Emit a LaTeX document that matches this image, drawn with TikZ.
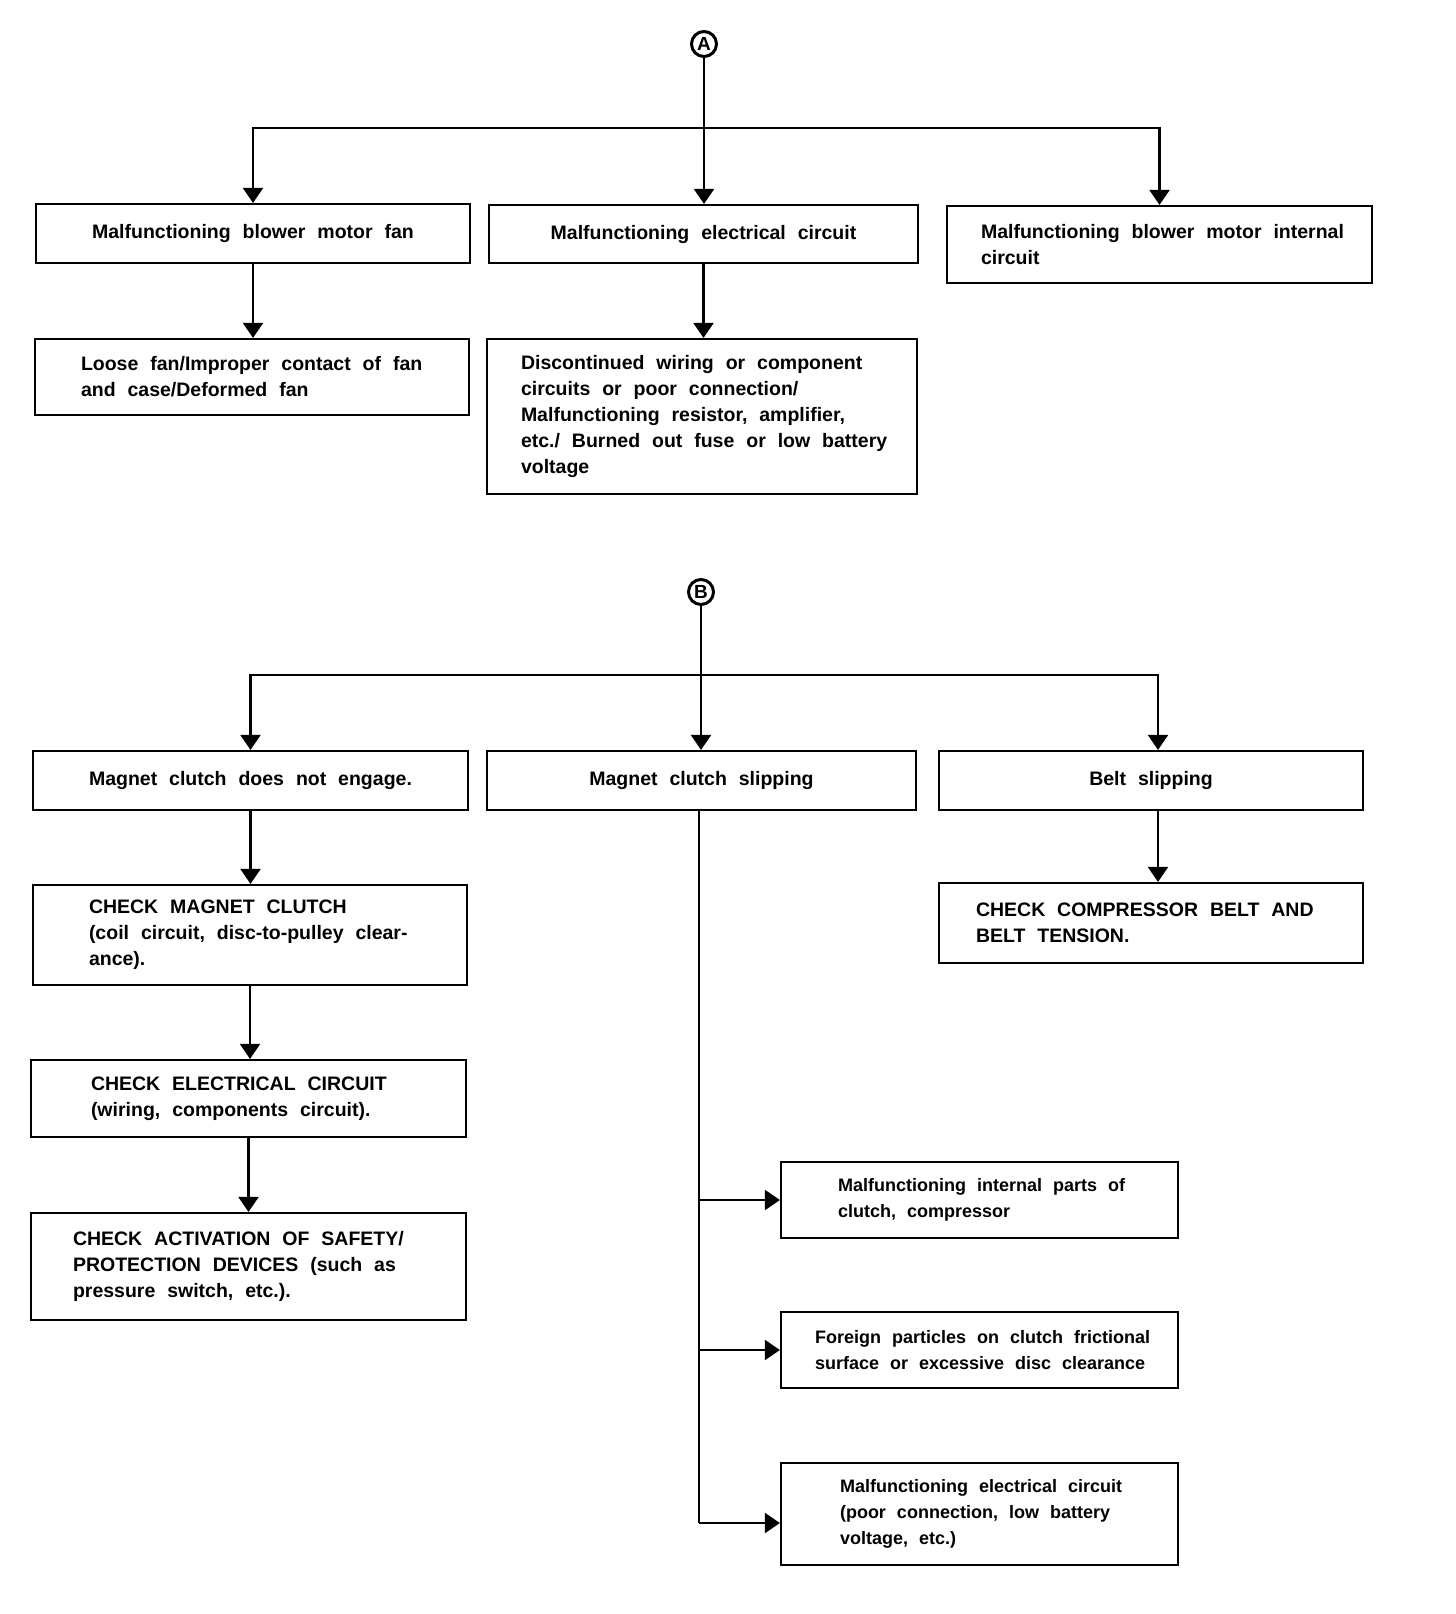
\documentclass[tikz,border=0pt]{standalone}
\usepackage{fontspec}
\setmainfont{Liberation Sans}[WordSpace=2.2]
\usetikzlibrary{arrows.meta}
\newcommand\Lx[1]{\mbox{\spaceskip=0pt\xspaceskip=0pt\relax #1}}
\tikzset{
  box/.style={draw, line width=2.2pt, rectangle, inner sep=0pt, align=center,
    font=\fontsize{19.5}{26}\selectfont\bfseries},
  lbox/.style={box, align=left},
  sbox/.style={lbox, font=\fontsize{18}{26}\selectfont\bfseries},
  circ/.style={draw, circle, line width=3pt, minimum size=25pt, inner sep=0pt,
    font=\fontsize{19}{19}\selectfont\bfseries},
  line/.style={line width=2.2pt},
  arr/.style={line, -{Triangle[length=15pt,width=20pt]}}
}
\begin{document}
\begin{tikzpicture}[x=1pt,y=-1pt]
\useasboundingbox (0,0) rectangle (1456,1614);
% ---- part A ----
\node[circ] (A) at (704,44) {A};
\node[box, minimum width=434pt, minimum height=59pt] (fan) at (253,233.5) {Malfunctioning blower motor fan};
\node[box, minimum width=429pt, minimum height=58pt] (elec) at (703.5,234) {Malfunctioning electrical circuit};
\node[lbox, minimum width=425pt, minimum height=77pt, inner xsep=34pt, text width=357pt] (motor) at (1159.5,244.5) {\Lx{Malfunctioning blower motor internal}\\\Lx{circuit}};
\node[lbox, minimum width=434pt, minimum height=76pt, inner xsep=46pt, text width=342pt] (loose) at (252,377) {\Lx{Loose fan/Improper contact of fan}\\\Lx{and case/Deformed fan}};
\node[lbox, minimum width=430pt, minimum height=155pt, inner xsep=34pt, text width=362pt] (discont) at (702,416.5) {\Lx{Discontinued wiring or component}\\\Lx{circuits or poor connection/}\\\Lx{Malfunctioning resistor, amplifier,}\\\Lx{etc./ Burned out fuse or low battery}\\\Lx{voltage}};
\coordinate (hA) at (704,128);
\draw[arr] (A.south) -- (A.south |- elec.north);
\draw[arr] (hA) -| (fan.north);
\draw[arr] (hA) -| (motor.north);
\draw[arr] (fan.south) -- (fan.south |- loose.north);
\draw[arr] (elec.south) -- (elec.south |- discont.north);
% ---- part B ----
\node[circ] (B) at (701,592) {B};
\node[box, minimum width=435pt, minimum height=59pt] (engage) at (250.5,780.5) {Magnet clutch does not engage.};
\node[box, minimum width=429pt, minimum height=59pt] (slip) at (701.5,780.5) {Magnet clutch slipping};
\node[box, minimum width=424pt, minimum height=59pt] (belt) at (1151,780.5) {Belt slipping};
\node[lbox, minimum width=434pt, minimum height=100pt, inner xsep=56pt, text width=322pt] (checkmag) at (250,935) {\Lx{CHECK MAGNET CLUTCH}\\\Lx{(coil circuit, disc-to-pulley clear-}\\\Lx{ance).}};
\node[lbox, minimum width=424pt, minimum height=80pt, inner xsep=37pt, text width=350pt] (comp) at (1151,923) {\Lx{CHECK COMPRESSOR BELT AND}\\\Lx{BELT TENSION.}};
\node[lbox, minimum width=435pt, minimum height=77pt, inner xsep=60pt, text width=315pt] (checkelec) at (248.5,1098.5) {\Lx{CHECK ELECTRICAL CIRCUIT}\\\Lx{(wiring, components circuit).}};
\node[lbox, minimum width=435pt, minimum height=107pt, inner xsep=42pt, text width=351pt] (activ) at (248.5,1266.5) {\Lx{CHECK ACTIVATION OF SAFETY/}\\\Lx{PROTECTION DEVICES (such as}\\\Lx{pressure switch, etc.).}};
\node[sbox, minimum width=397pt, minimum height=76pt, inner xsep=57pt, text width=283pt] (inner) at (979.5,1200) {\Lx{Malfunctioning internal parts of}\\\Lx{clutch, compressor}};
\node[sbox, minimum width=397pt, minimum height=76pt, inner xsep=34pt, text width=329pt] (foreign) at (979.5,1350) {\Lx{Foreign particles on clutch frictional}\\\Lx{surface or excessive disc clearance}};
\node[sbox, minimum width=397pt, minimum height=102pt, inner xsep=59pt, text width=279pt] (melec) at (979.5,1514) {\Lx{Malfunctioning electrical circuit}\\\Lx{(poor connection, low battery}\\\Lx{voltage, etc.)}};
\coordinate (hB) at (701,675);
\coordinate (bR) at (1158,675);
\draw[arr] (B.south) -- (B.south |- slip.north);
\draw[arr] (hB) -| (engage.north);
\draw[arr] (hB) -- (bR) -- (bR |- belt.north);
\draw[arr] (bR |- belt.south) -- (bR |- comp.north);
\draw[arr] (engage.south) -- (engage.south |- checkmag.north);
\draw[arr] (checkmag.south) -- (checkmag.south |- checkelec.north);
\draw[arr] (checkelec.south) -- (checkelec.south |- activ.north);
\coordinate (t3) at (699,1523);
\draw[line] (t3 |- slip.south) -- (t3);
\draw[arr] (t3 |- inner.west) -- (inner.west);
\draw[arr] (t3 |- foreign.west) -- (foreign.west);
\draw[arr] (t3) -- (t3 -| melec.west);
\end{tikzpicture}
\end{document}
